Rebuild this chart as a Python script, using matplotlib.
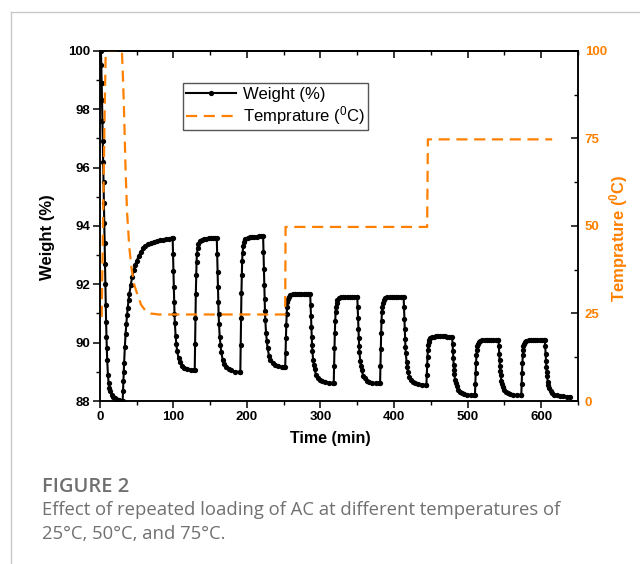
import matplotlib.pyplot as plt
from matplotlib.lines import Line2D
from matplotlib.ticker import MultipleLocator


# weight readings while the bath is at 25 C (time in min, weight in %)
time_25c = [
    1.5, 2, 2.5, 3, 3.5, 4, 4.5, 5, 5.5, 6, 6.5, 7, 7.5, 8, 8.5, 9, 9.5, 10,
    11, 12, 13, 14, 16, 18, 20, 22, 24, 26, 28, 30,
    31, 31.5, 32, 32.5, 33, 34, 35, 36, 37, 38, 39, 40, 42, 44, 46, 48, 50,
    53, 56, 59, 62, 66, 70, 74, 78, 82, 86, 90, 94, 98,
    99, 99.5, 100, 100.5, 101, 101.5, 102, 103, 104, 105, 107, 109, 112, 115,
    119, 124, 128,
    129, 129.5, 130, 130.5, 131, 131.5, 132, 133, 134, 136, 139, 142, 145,
    148, 151, 154, 157, 159,
    159.5, 160, 160.5, 161, 161.5, 162, 163, 164, 165, 167, 169, 172, 175,
    179, 184, 190,
    191, 191.5, 192, 192.5, 193, 193.5, 194, 195, 196, 198, 201, 204, 207,
    210, 213, 216, 219, 222,
    222.5, 223, 223.5, 224, 224.5, 225, 226, 227, 228, 230, 232, 235, 238,
    242, 247, 251,
]
weight_25c = [
    100.0, 99.5, 98.9, 98.3, 97.6, 96.9, 96.2, 95.5, 94.8, 94.1, 93.4, 92.7,
    92.0, 91.3, 90.7, 90.2, 89.8, 89.4,
    88.9, 88.6, 88.45, 88.35, 88.22, 88.14, 88.09, 88.06, 88.04, 88.02, 88.01, 88.0,
    88.0, 88.35, 88.7, 89.0, 89.3, 89.85, 90.3, 90.65, 90.95, 91.2, 91.45,
    91.65, 91.98, 92.25, 92.48, 92.66, 92.8,
    92.98, 93.12, 93.23, 93.3, 93.37, 93.42, 93.46, 93.49, 93.51, 93.53, 93.55,
    93.56, 93.57,
    93.57, 93.03, 92.44, 91.90, 91.40, 90.99, 90.68, 90.23, 89.95, 89.73,
    89.46, 89.32, 89.21, 89.14, 89.10, 89.06, 89.05,
    89.05, 89.95, 90.86, 91.67, 92.30, 92.76, 93.03, 93.25, 93.39, 93.48,
    93.52, 93.55, 93.56, 93.57, 93.57, 93.58, 93.58, 93.58,
    93.03, 92.43, 91.89, 91.38, 90.97, 90.65, 90.19, 89.92, 89.69, 89.41,
    89.27, 89.16, 89.09, 89.05, 89.01, 89.00,
    89.00, 89.93, 90.85, 91.69, 92.33, 92.80, 93.07, 93.31, 93.44, 93.54,
    93.58, 93.61, 93.62, 93.63, 93.63, 93.64, 93.65, 93.65,
    93.11, 92.52, 91.98, 91.49, 91.08, 90.77, 90.32, 90.05, 89.82, 89.55,
    89.42, 89.31, 89.24, 89.19, 89.16, 89.15,
]

# weight readings at 50 C
time_50c = [
    252, 252.5, 253, 253.5, 254, 254.5, 255, 256, 257, 259, 262, 265, 268,
    271, 274, 277, 280, 283, 286,
    286.5, 287, 287.5, 288, 288.5, 289, 290, 291, 292, 294, 296, 299, 302,
    306, 311, 317,
    318, 318.5, 319, 319.5, 320, 320.5, 321, 322, 323, 325, 328, 331, 334,
    337, 340, 343, 346, 349,
    350, 350.5, 351, 351.5, 352, 352.5, 353, 354, 355, 356, 358, 360, 363,
    366, 370, 375, 380,
    381, 381.5, 382, 382.5, 383, 383.5, 384, 385, 386, 388, 391, 394, 397,
    400, 403, 406, 409, 412,
    413, 413.5, 414, 414.5, 415, 415.5, 416, 417, 418, 419, 421, 423, 426,
    429, 433, 438, 443,
]
weight_50c = [
    89.15, 89.66, 90.16, 90.62, 90.97, 91.22, 91.38, 91.50, 91.58, 91.63,
    91.65, 91.67, 91.68, 91.68, 91.68, 91.67, 91.67, 91.66, 91.66,
    91.30, 90.90, 90.54, 90.20, 89.93, 89.71, 89.41, 89.23, 89.08, 88.89,
    88.80, 88.73, 88.68, 88.65, 88.63, 88.62,
    88.62, 89.21, 89.80, 90.34, 90.75, 91.05, 91.22, 91.37, 91.46, 91.52,
    91.55, 91.57, 91.58, 91.58, 91.58, 91.58, 91.58, 91.58,
    91.58, 91.22, 90.83, 90.48, 90.15, 89.88, 89.67, 89.37, 89.20, 89.05,
    88.87, 88.78, 88.70, 88.66, 88.63, 88.61, 88.60,
    88.60, 89.20, 89.79, 90.33, 90.75, 91.04, 91.22, 91.37, 91.46, 91.52,
    91.55, 91.57, 91.58, 91.58, 91.58, 91.58, 91.58, 91.58,
    91.58, 91.22, 90.82, 90.46, 90.13, 89.85, 89.64, 89.34, 89.16, 89.00,
    88.82, 88.73, 88.66, 88.61, 88.58, 88.56, 88.55,
]

# weight readings at 75 C
time_75c = [
    444, 444.5, 445, 445.5, 446, 446.5, 447, 448, 449, 451, 454, 457, 460,
    463, 466, 469, 472, 475, 478,
    479, 479.5, 480, 480.5, 481, 481.5, 482, 483, 484, 485, 487, 489, 492,
    495, 499, 504, 509,
    510, 510.5, 511, 511.5, 512, 512.5, 513, 514, 515, 517, 520, 523, 526,
    529, 532, 535, 538, 541,
    542, 542.5, 543, 543.5, 544, 544.5, 545, 546, 547, 548, 550, 552, 555,
    558, 562, 567, 572,
    573, 573.5, 574, 574.5, 575, 575.5, 576, 577, 578, 580, 583, 586, 589,
    592, 595, 598, 601, 604,
    605, 605.5, 606, 606.5, 607, 607.5, 608, 609, 610, 611, 613, 615, 618,
    621, 625, 630, 635, 639,
]
weight_75c = [
    88.55, 88.88, 89.22, 89.52, 89.75, 89.92, 90.02, 90.10, 90.15, 90.19,
    90.20, 90.22, 90.22, 90.22, 90.22, 90.22, 90.21, 90.21, 90.21,
    90.21, 89.97, 89.71, 89.47, 89.25, 89.06, 88.92, 88.72, 88.60, 88.50,
    88.38, 88.32, 88.27, 88.24, 88.22, 88.21, 88.20,
    88.20, 88.58, 88.96, 89.30, 89.57, 89.76, 89.87, 89.97, 90.02, 90.06,
    90.08, 90.09, 90.10, 90.10, 90.10, 90.10, 90.10, 90.10,
    90.10, 89.87, 89.62, 89.40, 89.19, 89.02, 88.88, 88.69, 88.58, 88.48,
    88.37, 88.31, 88.27, 88.24, 88.22, 88.21, 88.20,
    88.20, 88.58, 88.96, 89.30, 89.57, 89.76, 89.87, 89.97, 90.02, 90.06,
    90.08, 90.09, 90.10, 90.10, 90.10, 90.10, 90.10, 90.10,
    90.10, 89.87, 89.61, 89.38, 89.16, 88.99, 88.85, 88.66, 88.54, 88.44,
    88.33, 88.27, 88.22, 88.19, 88.17, 88.16, 88.15, 88.15,
]

# temperature set points (time in min, temperature in C)
temp_time = [2.5, 4, 5.5, 7, 8, 30, 31.5, 33, 35, 37, 40, 43, 47, 51, 56,
             62, 69, 80, 252, 252.5, 445, 446, 615]
temp_value = [24, 45, 68, 88, 100, 100, 92, 82, 66, 54, 44, 38, 33, 30.5,
              27.5, 25.8, 25, 24.7, 24.7, 49.7, 49.7, 74.7, 74.7]

time_ticks = [0, 100, 200, 300, 400, 500, 600]
weight_ticks = [88, 90, 92, 94, 96, 98, 100]
temp_ticks = [0, 25, 50, 75, 100]

caption_title = "FIGURE 2"
caption_lines = [
    "Effect of repeated loading of AC at different temperatures of",
    "25\u00b0C, 50\u00b0C, and 75\u00b0C.",
]

ORANGE = "#FF8000"
CAPTION_GRAY = "#707070"


def setup_fonts():
    plt.rcParams["font.family"] = ["Liberation Sans", "DejaVu Sans"]
    plt.rcParams["mathtext.fontset"] = "custom"
    plt.rcParams["mathtext.rm"] = "Liberation Sans"
    plt.rcParams["mathtext.bf"] = "Liberation Sans:bold"
    plt.rcParams["mathtext.default"] = "regular"


def draw_chart(fig):
    ax = fig.add_axes([0.156, 0.289, 0.747, 0.621])
    ax2 = ax.twinx()

    times = time_25c + time_50c + time_75c
    weights = weight_25c + weight_50c + weight_75c

    weight_line, = ax.plot(times, weights, color="black", lw=1.5,
                           marker="o", markersize=3.8, markeredgewidth=0,
                           label="Weight (%)")
    temp_line, = ax2.plot(temp_time, temp_value, color=ORANGE, lw=1.6,
                          linestyle=(0, (5, 3)),
                          label="Temprature ($^0$C)")

    ax.set_xlim(0, 650)
    ax.set_ylim(88, 100)
    ax2.set_ylim(0, 100)

    ax.set_xticks(time_ticks)
    ax.set_yticks(weight_ticks)
    ax2.set_yticks(temp_ticks)
    ax.xaxis.set_minor_locator(MultipleLocator(50))
    ax.yaxis.set_minor_locator(MultipleLocator(1))
    ax2.yaxis.set_minor_locator(MultipleLocator(12.5))

    ax.tick_params(which="major", direction="out", length=5, width=1.1,
                   labelsize=9.5, pad=2)
    ax.tick_params(which="minor", direction="out", length=3, width=1.0)
    ax2.tick_params(which="major", direction="in", length=5, width=1.1,
                    labelsize=9.5, labelcolor=ORANGE, pad=5)
    ax2.tick_params(which="minor", direction="in", length=3, width=1.0)

    top = ax.secondary_xaxis("top")
    top.set_xticks(time_ticks)
    top.xaxis.set_minor_locator(MultipleLocator(50))
    top.tick_params(which="major", direction="in", length=5, width=1.1,
                    labeltop=False)
    top.tick_params(which="minor", direction="in", length=3, width=1.0)

    for label in ax.get_xticklabels() + ax.get_yticklabels() + ax2.get_yticklabels():
        label.set_fontweight("bold")

    for axis in (ax, ax2, top):
        for spine in axis.spines.values():
            spine.set_linewidth(1.1)

    ax.set_xlabel("Time (min)", fontsize=11.5, fontweight="bold")
    ax.set_ylabel("Weight (%)", fontsize=12, fontweight="bold")
    ax2.set_ylabel("Temprature ($^0$C)", fontsize=12, fontweight="bold",
                   color=ORANGE)
    ax.xaxis.set_label_coords(0.483, -0.087)
    ax.yaxis.set_label_coords(-0.093, 0.469)
    ax2.yaxis.set_label_coords(1.06, 0.466)

    legend = ax.legend(handles=[weight_line, temp_line], loc="upper left",
                       bbox_to_anchor=(0.174, 0.907), fontsize=12,
                       fancybox=False, framealpha=1, edgecolor="#555555",
                       handlelength=3.0, borderpad=0.2, labelspacing=0.15,
                       handletextpad=0.4, borderaxespad=0)
    legend.get_frame().set_linewidth(1.0)


def draw_caption(fig):
    fig.add_artist(Line2D([11 / 640, 1], [1 - 12 / 564, 1 - 12 / 564],
                          transform=fig.transFigure, color="#c8c8c8", lw=1))
    fig.add_artist(Line2D([11 / 640, 11 / 640], [0, 1 - 12 / 564],
                          transform=fig.transFigure, color="#c8c8c8", lw=1))

    fig.text(0.066, 0.136, caption_title, fontsize=14.5, color=CAPTION_GRAY,
             family="Open Sans", fontweight="semibold", va="center")
    fig.text(0.066, 0.095, caption_lines[0], fontsize=13.3, color=CAPTION_GRAY,
             family="Open Sans", va="center")
    fig.text(0.066, 0.054, caption_lines[1], fontsize=13.3, color=CAPTION_GRAY,
             family="Open Sans", va="center")


def main():
    setup_fonts()
    fig = plt.figure(figsize=(6.4, 5.64), dpi=100)
    draw_chart(fig)
    draw_caption(fig)
    fig.savefig("out.png", dpi=100)
    plt.close(fig)


if __name__ == "__main__":
    main()
